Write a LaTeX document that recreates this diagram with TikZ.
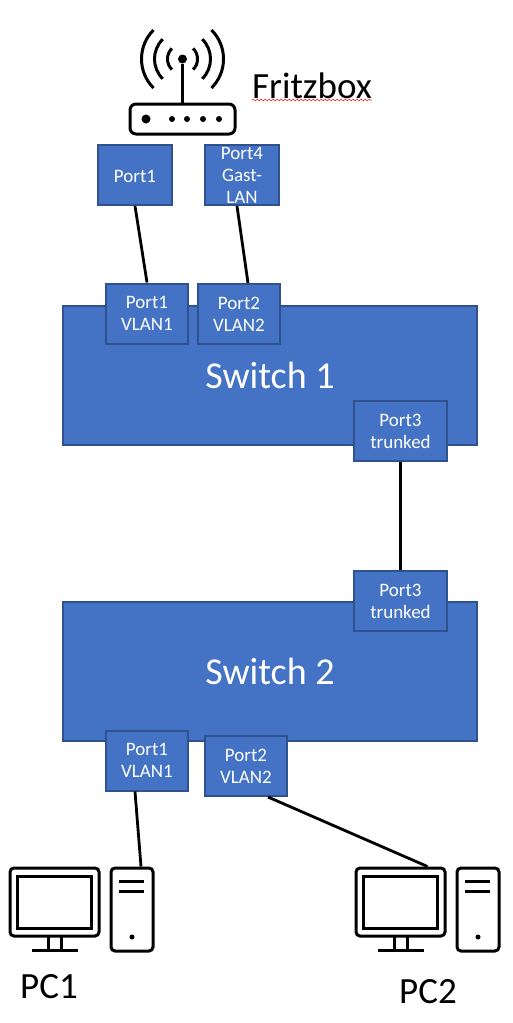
\documentclass[tikz,border=0pt]{standalone}
\usepackage{fontspec}
\setmainfont{Carlito}
\usetikzlibrary{arrows.meta,positioning,decorations.pathmorphing}

\begin{document}
\begin{tikzpicture}[
    x=1pt, y=-1pt,
    swbox/.style={draw=boxline, fill=boxfill, line width=2pt, minimum width=414pt, minimum height=139pt, text=white, font=\fontsize{38}{44}\selectfont},
    portbox/.style={draw=boxline, fill=boxfill, line width=2pt, minimum height=60pt, inner sep=0pt, align=center, text=white, font=\fontsize{19}{22}\selectfont, execute at begin node=\rule{0pt}{16pt}},
    label/.style={anchor=base west, inner sep=0pt, font=\fontsize{37}{44}\selectfont},
    link/.style={line width=2.8pt},
    icon/.style={draw, line width=3pt, rounded corners=4pt, inner sep=0pt},
    dot/.style={circle, fill=black, inner sep=0pt},
    pcset/.pic={
        \node[icon, minimum width=89pt, minimum height=68pt] (monitor) at (54.5,902) {};
        \node[icon, rounded corners=0pt, minimum width=74pt, minimum height=52pt] (screen) at (54.5,902) {};
        \node[icon, minimum width=42pt, minimum height=83pt] (tower) at (132,909.5) {};
        \draw[line width=3pt] (48,936) -- (48,950) (61,936) -- (61,950);
        \draw[line width=3pt] (32,950) -- (78,950);
        \draw[line width=3pt] (119,881) -- (144,881) (119,891) -- (144,891);
        \node[dot, minimum size=5pt] (led) at (132,937) {};
    }
]
\definecolor{boxfill}{HTML}{4472C4}
\definecolor{boxline}{HTML}{2F528F}
\useasboundingbox (0,0) rectangle (513,1023);

% router icon
\node[icon, rounded corners=6pt, minimum width=105pt, minimum height=30pt] (router) at (182.5,119) {};
\node[dot, minimum size=9pt] (aerial) at (182.5,59) {};
\draw[line width=3pt] (router) -- (aerial);
\foreach \r in {15,28,41} {
    \draw[line width=3pt] (aerial) ++(45:\r) arc[start angle=45, end angle=-45, radius=\r];
    \draw[line width=3pt] (aerial) ++(135:\r) arc[start angle=135, end angle=225, radius=\r];
}
\node[dot, minimum size=9pt] (power) at (146,119) {};
\foreach \x in {172,187,203,219} {
    \node[dot, minimum size=6pt] (led\x) at (\x,119) {};
}
\node[label] (fritz) at (252,98) {Fritzbox};
\draw[red, line width=0.5pt, decorate, decoration={snake, amplitude=0.7pt, segment length=4pt}]
    ([yshift=-2pt]fritz.base west) -- ([yshift=-2pt]fritz.base east);

% fritzbox ports
\node[portbox, minimum width=74pt] (fport1) at (135,175) {Port1};
\node[portbox, minimum width=74pt] (fport4) at (242,175) {Port4\\Gast-\\LAN};

% switches
\node[swbox] (switch1) at (270,375.5) {Switch 1};
\node[swbox] (switch2) at (270,671.5) {Switch 2};

\node[portbox, minimum width=82pt] (aport1) at (147,313.5) {Port1\\VLAN1};
\node[portbox, minimum width=82pt] (aport2) at (239,314) {Port2\\VLAN2};
\node[portbox, minimum width=93pt] (aport3) at (400.5,431) {Port3\\trunked};
\node[portbox, minimum width=93pt] (bport3) at (400.5,601) {Port3\\trunked};
\node[portbox, minimum width=82pt] (bport1) at (147,760.5) {Port1\\VLAN1};
\node[portbox, minimum width=82pt] (bport2) at (246,766) {Port2\\VLAN2};

% computers
\pic (pca) at (0,0) {pcset};
\pic (pcb) at (346,0) {pcset};
\node[label] (pc1) at (20,998) {PC1};
\node[label] (pc2) at (399,1003) {PC2};

% cables
\draw[link] (fport1.south) -- (aport1.north);
\draw[link] ([xshift=-5pt]fport4.south) -- ([xshift=9pt]aport2.north);
\draw[link] (aport3.south) -- (bport3.north);
\draw[link] ([xshift=-12pt]bport1.south) -- ([xshift=9pt]pcatower.north);
\draw[link] ([xshift=22pt]bport2.south) -- ([xshift=27pt]pcbmonitor.north);
\end{tikzpicture}
\end{document}
